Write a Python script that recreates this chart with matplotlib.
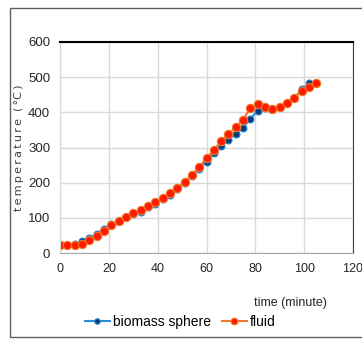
import matplotlib
matplotlib.use("Agg")
import matplotlib.pyplot as plt
from matplotlib.patches import Rectangle

time_min = [0, 3, 6, 9, 12, 15, 18, 21, 24, 27, 30, 33, 36, 39, 42, 45, 48, 51,
            54, 57, 60, 63, 66, 69, 72, 75, 78, 81, 84, 87, 90, 93, 96, 99, 102, 105]
fluid = [22, 22, 24, 27, 36, 48, 63, 79, 92, 103, 113, 122, 133, 144, 156, 171, 184, 202,
         223, 244, 271, 293, 318, 338, 358, 379, 413, 424, 416, 410, 416, 427, 441, 462, 471, 482]
biomass = [22, 22, 26, 35, 42, 55, 68, 82, 90, 101, 110, 118, 130, 140, 153, 166, 182, 200,
           220, 240, 260, 285, 303, 322, 338, 356, 382, 405, 412, 410, 416, 427, 441, 465, 482, 482]

plt.rcParams['font.family'] = ['DejaVu Sans']

fig = plt.figure(figsize=(3.62, 3.47), dpi=100)
ax = fig.add_axes([60/362, 1 - 253/347, 293/362, 211/347])

ax.plot(time_min, biomass, '-o', color='#2E8BD8', lw=1.5, ms=5,
        mfc='#0B3A78', mec='#2E8BD8', mew=0.8, label='biomass sphere')
ax.plot(time_min, fluid, '-o', color='#F07A2A', lw=1.5, ms=6,
        mfc='#FF1A00', mec='#F07A2A', mew=0.8, label='fluid')

ax.set_xlim(0, 120)
ax.set_ylim(0, 600)
ax.set_xticks(range(0, 121, 20))
ax.set_yticks(range(0, 601, 100))
ax.grid(True, color='#D9D9D9', lw=1)
ax.set_axisbelow(True)
ax.tick_params(length=0, labelsize=9.5, pad=7, labelcolor='#262626')
for lab in ax.get_xticklabels() + ax.get_yticklabels():
    lab.set_fontfamily('Liberation Sans')
ax.tick_params(axis='x', labelsize=9)

ax.spines['top'].set_color('black')
ax.spines['top'].set_linewidth(1.5)
ax.spines['right'].set_color('#404040')
ax.spines['left'].set_color('#D9D9D9')
ax.spines['bottom'].set_color('#A6A6A6')

ax.set_ylabel('\u2009'.join('temperature') + '  (\u2009°C\u2009)', fontsize=8,
              color='#404040', labelpad=3)
fig.text(290/362, 1 - 303/347, 'time (minute)', fontsize=9, ha='center', va='center',
         color='#262626', family='Liberation Sans')

ax.legend(loc='center', bbox_to_anchor=(180/362, 1 - 322/347), bbox_transform=fig.transFigure,
          ncol=2, frameon=False, prop={'family': 'Liberation Sans', 'size': 10},
          handlelength=1.8, handletextpad=0.2, columnspacing=0.8, borderpad=0, markerscale=0.8)

fig.patches.append(Rectangle((10/362, 1 - 337/347), 360/362, 329/347, transform=fig.transFigure,
                             fill=False, edgecolor='#606060', lw=1))

fig.savefig('out.png', dpi=100)
